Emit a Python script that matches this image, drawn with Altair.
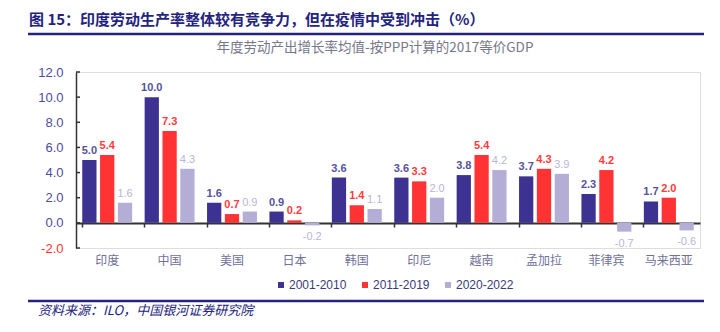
import altair as alt
import pandas as pd

categories = ["印度", "中国", "美国", "日本", "韩国", "印尼", "越南", "孟加拉", "菲律宾", "马来西亚"]
series_names = ["2001-2010", "2011-2019", "2020-2022"]
v2001_2010 = [5.0, 10.0, 1.6, 0.9, 3.6, 3.6, 3.8, 3.7, 2.3, 1.7]
v2011_2019 = [5.4, 7.3, 0.7, 0.2, 1.4, 3.3, 5.4, 4.3, 4.2, 2.0]
v2020_2022 = [1.6, 4.3, 0.9, -0.2, 1.1, 2.0, 4.2, 3.9, -0.7, -0.6]
y_ticks = [-2, 0, 2, 4, 6, 8, 10, 12]

title_text = "图 15：印度劳动生产率整体较有竞争力，但在疫情中受到冲击（%）"
subtitle_text = "年度劳动产出增长率均值-按PPP计算的2017等价GDP"
source_text = "资料来源：ILO，中国银河证券研究院"

rows = []
for s, vals in zip(series_names, [v2001_2010, v2011_2019, v2020_2022]):
    for c, v in zip(categories, vals):
        rows.append({"cat": c, "series": s, "value": v})
df = pd.DataFrame(rows)

W, H = 624, 176
bar_colors = ["#3D3292", "#FF3333", "#B4AED6"]
label_colors = ["#55529C", "#FF3B3B", "#B9B5D8"]
navy = "#24237E"

x_enc = alt.X(
    "cat:N", sort=categories,
    scale=alt.Scale(domain=categories, paddingInner=0.2, paddingOuter=0.1),
    axis=alt.Axis(title=None, offset=-25, bandPosition=0, domainColor="#333333",
                  domainWidth=2, tickColor="#333333", tickSize=4, tickWidth=1.5,
                  labelPadding=28, labelFont="Noto Sans CJK SC", labelFontSize=12,
                  labelColor="#707098", labelAngle=0),
)
xo_enc = alt.XOffset("series:N", sort=series_names,
                     scale=alt.Scale(domain=series_names, paddingInner=0.2, paddingOuter=0))
y_enc = alt.Y(
    "value:Q",
    scale=alt.Scale(domain=[-2, 12], nice=False, zero=True),
    axis=alt.Axis(title=None, values=y_ticks, grid=False, ticks=False,
                  labelOverlap=False, labelBound=False,
                  labelExpr="replace(format(datum.value, '.1f'), '\u2212', '-')",
                  domainColor="#333333", domainWidth=1.5, labelFontSize=13,
                  labelFont="Liberation Sans", labelPadding=13,
                  labelColor={"condition": {"test": "datum.value < 0", "value": "#FF3333"},
                              "value": "#4E4C9E"}),
)

base = alt.Chart(df).transform_calculate(
    lab="replace(format(datum.value, '.1f'), '\u2212', '-')"
)

bars = base.mark_bar().encode(
    x=x_enc, xOffset=xo_enc, y=y_enc,
    color=alt.Color("series:N", sort=series_names,
                    scale=alt.Scale(domain=series_names, range=bar_colors),
                    legend=alt.Legend(title=None, orient="none", direction="horizontal",
                                      legendX=199, legendY=207, symbolType="square",
                                      symbolSize=36, labelFontSize=12,
                                      labelFont="Liberation Sans", labelColor="#3A3A78",
                                      columnPadding=12, symbolStrokeWidth=0,
                                      labelOffset=2)),
)

lab_color = alt.Color("series:N", sort=series_names,
                      scale=alt.Scale(domain=series_names, range=label_colors), legend=None)

pos_bold = base.transform_filter(
    "datum.value >= 0 && datum.series != '2020-2022'"
).mark_text(baseline="bottom", dy=-4, fontSize=11, fontWeight="bold",
            font="Liberation Sans").encode(
    x=x_enc, xOffset=xo_enc, y=y_enc, text="lab:N", color=lab_color)
pos_norm = base.transform_filter(
    "datum.value >= 0 && datum.series == '2020-2022'"
).mark_text(baseline="bottom", dy=-4, fontSize=11, font="Liberation Sans").encode(
    x=x_enc, xOffset=xo_enc, y=y_enc, text="lab:N", color=lab_color)
neg = base.transform_filter("datum.value < 0").mark_text(
    baseline="top", dy=6, fontSize=11, font="Liberation Sans").encode(
    x=x_enc, xOffset=xo_enc, y=y_enc, text="lab:N", color=lab_color)

# inward y-axis ticks
yticks = alt.Chart(pd.DataFrame({"value": y_ticks})).mark_rule(
    color="#333333", strokeWidth=1.5).encode(
    y=y_enc, x=alt.value(0), x2=alt.value(4))

one = pd.DataFrame({"a": [0]})
title = alt.Chart(pd.DataFrame({"t": [title_text]})).mark_text(
    align="left", baseline="middle", fontSize=15, fontWeight="bold",
    font="Noto Sans CJK SC", color=navy).encode(
    x=alt.value(-47), y=alt.value(-52), text="t:N")
subtitle = alt.Chart(pd.DataFrame({"t": [subtitle_text]})).mark_text(
    align="center", baseline="middle", fontSize=13.5,
    font="Noto Sans CJK SC", color="#77778A").encode(
    x=alt.value(299), y=alt.value(-24), text="t:N")
source = alt.Chart(pd.DataFrame({"t": [source_text]})).mark_text(
    align="left", baseline="middle", fontSize=13, fontStyle="italic",
    font="Noto Sans CJK SC", color=navy).encode(
    x=alt.value(-38), y=alt.value(239), text="t:N")
line_top = alt.Chart(one).mark_rule(color=navy, strokeWidth=2.5).encode(
    x=alt.value(-48), x2=alt.value(628), y=alt.value(-38))
line_bot = alt.Chart(one).mark_rule(color=navy, strokeWidth=2.5).encode(
    x=alt.value(-48), x2=alt.value(628), y=alt.value(229))

chart = alt.layer(
    bars, pos_bold, pos_norm, neg, yticks, title, subtitle, source, line_top, line_bot
).resolve_scale(color="independent").properties(
    width=W, height=H,
    autosize=alt.AutoSizeParams(type="none"),
    padding={"left": 76, "top": 72, "right": 20, "bottom": 84},
).configure_view(stroke=None).configure(background="white")

chart.save("out.html", embed_options={"renderer": "svg", "actions": False})
